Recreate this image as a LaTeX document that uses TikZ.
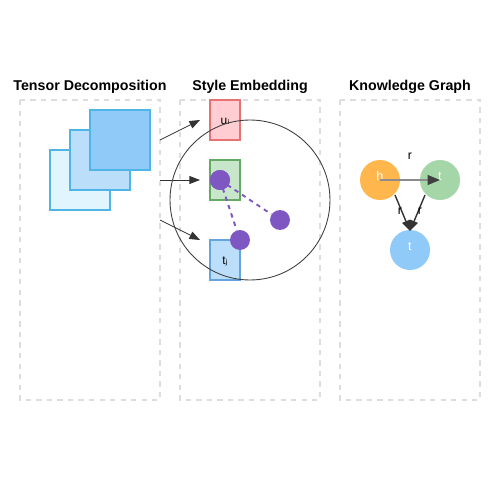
\documentclass[tikz,border=0pt]{standalone}
\usepackage{fontspec}
\setmainfont{Liberation Sans}
\newfontfamily\symfont{DejaVu Sans}
\usetikzlibrary{arrows.meta,positioning}

\definecolor{panelgray}{HTML}{DDDDDD}
\definecolor{sqlight}{HTML}{E1F5FE}
\definecolor{sqmid}{HTML}{BBDEFB}
\definecolor{sqdark}{HTML}{90CAF9}
\definecolor{sqline}{HTML}{4FB4E6}
\definecolor{ufill}{HTML}{FFCDD2}
\definecolor{uline}{HTML}{E57373}
\definecolor{sfill}{HTML}{C8E6C9}
\definecolor{sline}{HTML}{66A866}
\definecolor{tfill}{HTML}{BBDEFB}
\definecolor{tline}{HTML}{64A5E0}
\definecolor{dotpurple}{HTML}{7E57C2}
\definecolor{hcol}{HTML}{FFB74D}
\definecolor{tcol}{HTML}{A5D6A7}
\definecolor{bcol}{HTML}{90CAF9}

\begin{document}
\begin{tikzpicture}[
  x=0.02cm, y=-0.02cm,
  panel/.style={
    draw=panelgray,
    line width=0.9pt,
    dash pattern=on 3pt off 3pt},
  title/.style={font=\bfseries\fontsize{8.1}{9}\selectfont},
  square/.style={
    draw=sqline,
    line width=0.6pt,
    minimum size=1.2cm,
    inner sep=0pt},
  vecbox/.style={
    line width=0.7pt,
    minimum width=0.6cm,
    minimum height=0.8cm,
    inner sep=0pt,
    font=\fontsize{6.5}{7}\selectfont},
  flow/.style={
    draw=black!80,
    line width=0.5pt,
    -{Triangle[length=6pt,width=4.5pt]}},
  dot/.style={
    circle,
    fill=dotpurple,
    minimum size=0.4cm,
    inner sep=0pt},
  link/.style={
    draw=dotpurple,
    line width=1.1pt,
    dash pattern=on 2.5pt off 2.5pt},
  entity/.style={
    circle,
    minimum size=0.8cm,
    inner sep=0pt},
  elabel/.style={
    text=white,
    font=\fontsize{7.2}{8}\selectfont},
  rlabel/.style={font=\fontsize{7}{8}\selectfont}
  ]
    \useasboundingbox (0,0) rectangle (500,500);

    % panels and titles
    \draw[panel] (20,100) rectangle (160,400);
    \draw[panel] (180,100) rectangle (320,400);
    \draw[panel] (340,100) rectangle (480,400);
    \node[title] (t1) at (90,86.5) {Tensor Decomposition};
    \node[title] (t2) at (250,86.5) {Style Embedding};
    \node[title] (t3) at (410,86.5) {Knowledge Graph};

    % stacked tensor slices
    \node[square, fill=sqlight] (sq1) at (80,180) {};
    \node[square, fill=sqmid] (sq2) at (100,160) {};
    \node[square, fill=sqdark] (sq3) at (120,140) {};

    % embedding vectors
    \node[vecbox, draw=uline, fill=ufill] (u) at (225,120) {};
    \node[font=\fontsize{6.8}{7}\selectfont] (ulab) at (225,121) {u{\symfont ᵢ}};
    \node[vecbox, draw=sline, fill=sfill] (s) at (225,180) {};
    \node[vecbox, draw=tline, fill=tfill] (t) at (225,260) {};
    \node[font=\fontsize{6.8}{7}\selectfont] (tlab) at (225,261) {t{\symfont ⱼ}};

    \coordinate (a1) at (160,140);
    \coordinate (a2) at (160,180);
    \coordinate (a3) at (160,220);
    \coordinate (b1) at (200,120);
    \coordinate (b2) at (200,180);
    \coordinate (b3) at (200,240);
    \draw[flow] (a1) -- (b1);
    \draw[flow] (a2) -- (b2);
    \draw[flow] (a3) -- (b3);

    % style space
    \node[circle, draw=black!75, line width=0.5pt, minimum size=3.2cm,
      inner sep=0pt] (space) at (250,200) {};
    \node[dot] (d1) at (220,180) {};
    \node[dot] (d2) at (280,220) {};
    \node[dot] (d3) at (240,240) {};
    \draw[link] (d1.center) -- (d2);
    \draw[link] (d1.center) -- (d3);
    \node[dot] at (d1) {};

    % knowledge graph
    \node[entity, fill=hcol] (h) at (380,180) {};
    \node[entity, fill=tcol] (t1e) at (440,180) {};
    \node[entity, fill=bcol] (t2e) at (410,250) {};
    \node[elabel] at (380,176) {h};
    \node[elabel] at (440,176) {t};
    \node[elabel] at (410,246) {t};
    \draw[draw=black!45, line width=1pt,
      -{Triangle[length=7pt,width=5.5pt,color=black!75]}]
      (h.center) -- (t1e.center);
    \node[rlabel] (r1) at (410,156) {r};
    \coordinate (p1) at (395,195);
    \coordinate (p2) at (425,195);
    \coordinate (q) at (410,231);
    \draw[flow, line width=0.8pt] (p1) -- (q);
    \draw[flow, line width=0.8pt] (p2) -- (q);
    \node[rlabel] (r2) at (400,211) {r};
    \node[rlabel] (r3) at (420,211) {r};
\end{tikzpicture}
\end{document}
